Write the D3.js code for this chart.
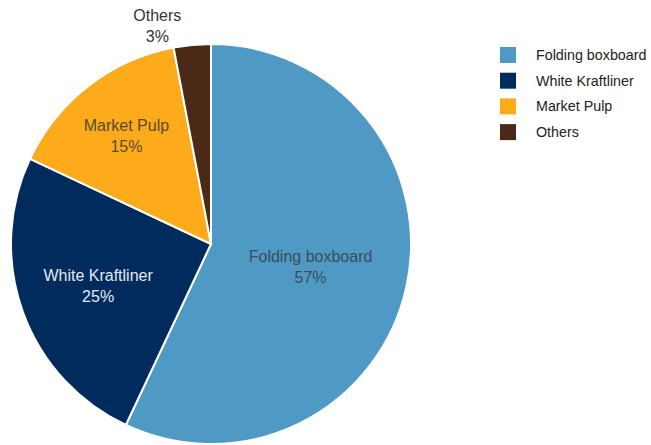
<!DOCTYPE html>
<html lang="en">
<head>
<meta charset="utf-8" />
<title>Pie Chart</title>
<script src="https://cdn.jsdelivr.net/npm/d3@7"></script>
<style>
  body { margin: 0; background: #fff; }
</style>
</head>
<body>
<svg id="pie" width="651" height="445"></svg>
<script>
// data
const categories = ["Folding boxboard", "White Kraftliner", "Market Pulp", "Others"];
const shares = [57, 25, 15, 3];

const colors = ["#4f9ac4", "#002b5c", "#fdaa1b", "#4a2916"];
const labelColors = ["#3d4b5c", "#e3e8ef", "#5a4a30", "#333333"];
// how far out each label sits (fraction of radius), plus sideways nudge
const labelRadius = [0.51, 0.6, 0.69, 1.1];
const labelShift = [0, 0, 0, -33];

const svg = d3.select("#pie").attr("font-family", "Liberation Sans, Arial, sans-serif");

const cx = 211, cy = 244, r = 200;

const g = svg.append("g").attr("transform", `translate(${cx}, ${cy})`);

const pie = d3.pie().sort(null).value(d => d.value);
const arcs = pie(categories.map((c, i) => ({ name: c, value: shares[i], i })));

const arc = d3.arc().innerRadius(0).outerRadius(r);

g.selectAll(".slice")
  .data(arcs)
  .enter()
  .append("path")
  .attr("class", "slice")
  .attr("d", arc)
  .attr("fill", d => colors[d.data.i])
  .attr("stroke", "#fff")
  .attr("stroke-width", 2);

// labels
const labels = g.selectAll(".label")
  .data(arcs)
  .enter()
  .append("text")
  .attr("class", "label")
  .attr("transform", d => {
    const lr = r * labelRadius[d.data.i];
    const a = d3.arc().innerRadius(lr).outerRadius(lr);
    const [x, y] = a.centroid(d);
    return `translate(${x + labelShift[d.data.i]}, ${y})`;
  })
  .attr("text-anchor", "middle")
  .attr("font-size", "16px")
  .attr("fill", d => labelColors[d.data.i]);

labels.append("tspan")
  .attr("x", 0)
  .attr("y", -4)
  .text(d => d.data.name);

labels.append("tspan")
  .attr("x", 0)
  .attr("y", 17)
  .text(d => d.data.value + "%");

// legend
const legend = svg.append("g")
  .attr("class", "legend")
  .attr("transform", "translate(500, 47)");

legend.selectAll(".legend-item")
  .data(categories)
  .enter()
  .append("g")
  .attr("class", "legend-item")
  .attr("transform", (d, i) => `translate(0, ${i * 25.7})`)
  .call(item => {
    item.append("rect")
      .attr("width", 16)
      .attr("height", 16)
      .attr("fill", (d, i) => colors[i]);
    item.append("text")
      .attr("x", 36)
      .attr("y", 13)
      .attr("font-size", "14.3px")
      .attr("fill", "#222")
      .text(d => d);
  });
</script>
</body>
</html>
